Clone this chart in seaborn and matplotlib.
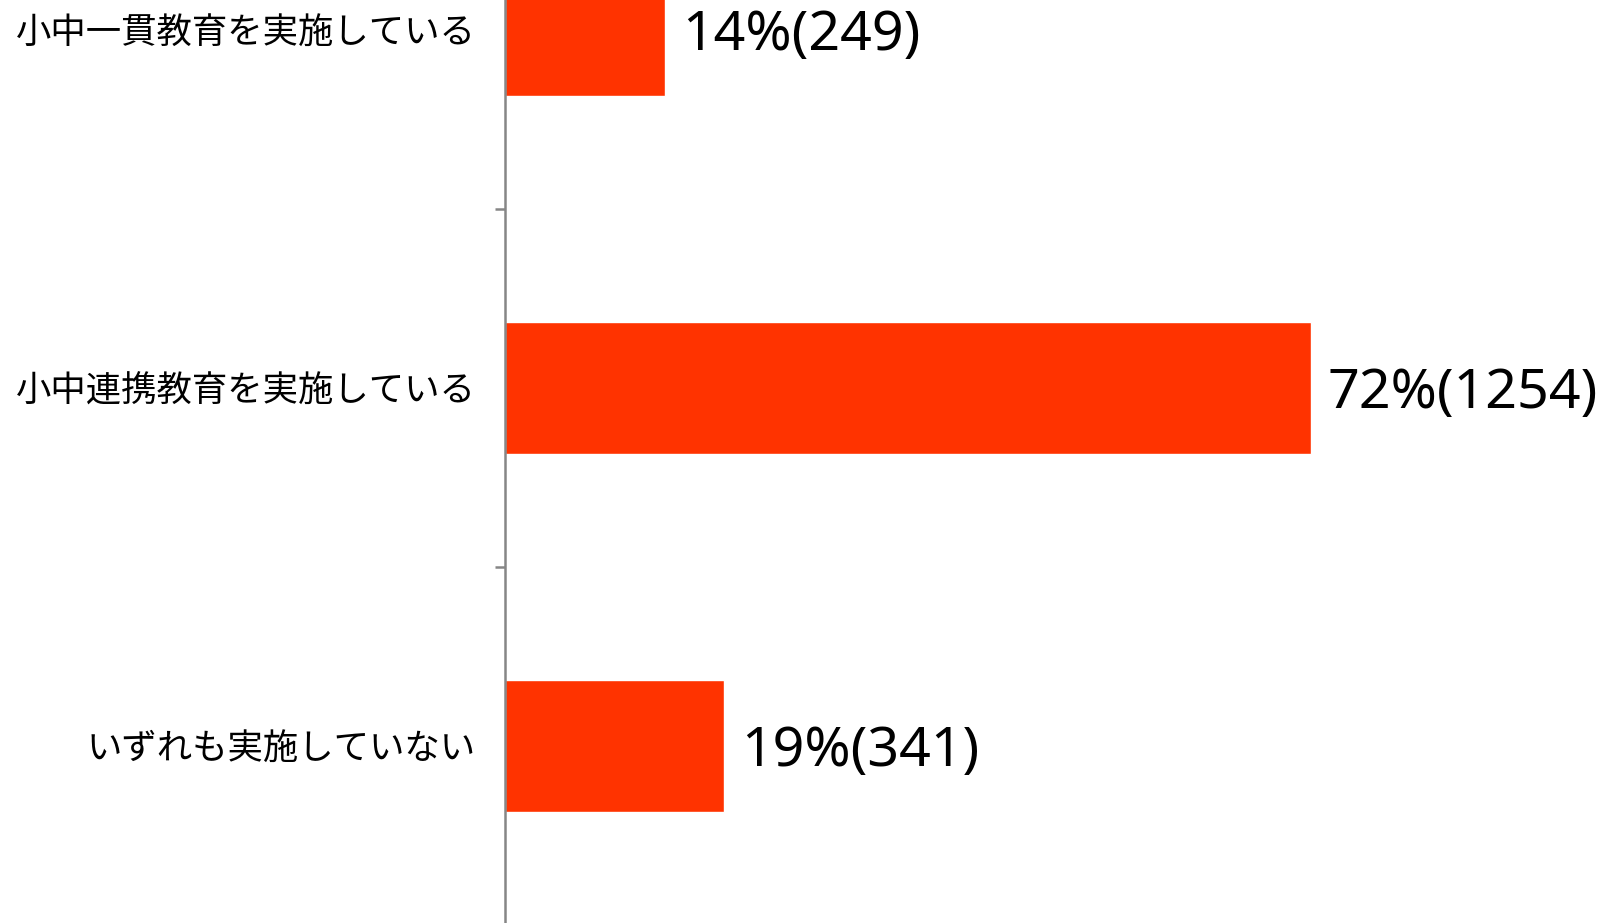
import matplotlib
matplotlib.use("Agg")
import matplotlib.pyplot as plt
import seaborn as sns
import pandas as pd

# Survey answers (Japanese labels), counts and shares
categories = ["小中一貫教育を実施している", "小中連携教育を実施している", "いずれも実施していない"]
counts = [249, 1254, 341]
percents = [14, 72, 19]

BAR_COLOR = "#FF3300"
SPINE_COLOR = "#868686"

sns.set_theme(style="white")
plt.rcParams["font.family"] = ["Noto Sans CJK JP", "DejaVu Sans"]

df = pd.DataFrame({"category": categories, "count": counts})

fig = plt.figure(figsize=(16.09, 9.23), dpi=100)
ax = fig.add_axes([505 / 1609, 0.0, 1 - 505 / 1609, 1.0])

sns.barplot(data=df, x="count", y="category", orient="h", color=BAR_COLOR,
            saturation=1, width=0.37, ax=ax)

# Value labels next to each bar, sitting a touch below the bar centre
for i, (p, n) in enumerate(zip(percents, counts)):
    ax.annotate(f"{p}%({n})", xy=(n, i), xytext=(12, -4), textcoords="offset points",
                ha="left", va="center", fontsize=40,
                family=["Noto Sans", "DejaVu Sans"], color="black",
                annotation_clip=False)

ax.set_xlim(0, 1718)
ax.set_ylim(2.494, -0.084)
ax.set_xlabel("")
ax.set_ylabel("")
ax.xaxis.set_visible(False)

for side in ["top", "right", "bottom"]:
    ax.spines[side].set_visible(False)
ax.spines["left"].set_color(SPINE_COLOR)
ax.spines["left"].set_linewidth(1.8)

# Labels at the category centres, tick marks between categories
ax.set_yticks(range(len(categories)))
ax.set_yticklabels(categories, fontsize=25.5, color="black")
ax.tick_params(axis="y", which="major", length=0, pad=21)
ax.set_yticks([0.5, 1.5], minor=True)
ax.tick_params(axis="y", which="minor", left=True, length=7, width=1.8, color=SPINE_COLOR)

fig.savefig("out.png", dpi=100)
